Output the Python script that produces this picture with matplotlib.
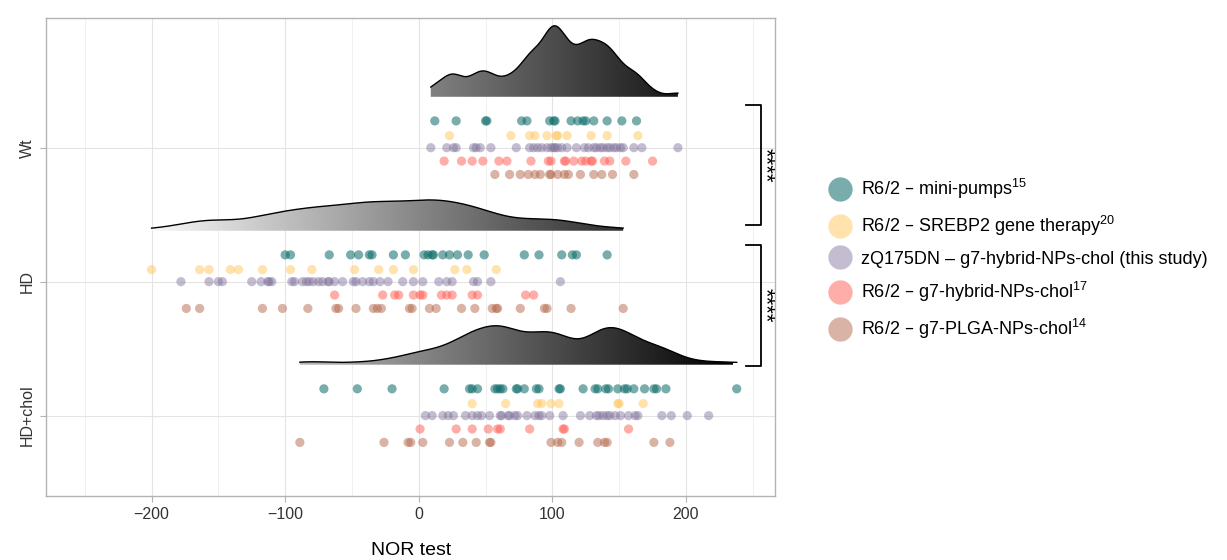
import numpy as np
import matplotlib
matplotlib.use("Agg")
import matplotlib.pyplot as plt
from matplotlib.patches import Polygon
from matplotlib.lines import Line2D
from matplotlib.colors import LinearSegmentedColormap
from matplotlib.ticker import MultipleLocator

plt.rcParams.update({"font.family": ["Liberation Sans", "DejaVu Sans"],
                     "mathtext.default": "regular"})

groups = ["HD+chol", "HD", "Wt"]  # bottom to top
studies = ["R6/2 – mini-pumps$^{15}$",
           "R6/2 – SREBP2 gene therapy$^{20}$",
           "zQ175DN – g7-hybrid-NPs-chol (this study)",
           "R6/2 – g7-hybrid-NPs-chol$^{17}$",
           "R6/2 – g7-PLGA-NPs-chol$^{14}$"]
colors = ["#0b6b69", "#ffc65a", "#7d6e99", "#ff5c52", "#b5694d"]
alphas = [0.55, 0.5, 0.45, 0.5, 0.5]
offsets = [0.2, 0.09, 0.0, -0.1, -0.2]

# NOR test values
wt_teal = [12, 28, 50, 51, 77, 81, 98, 101, 102, 114, 119, 123, 125, 131, 141, 152, 163]
wt_yellow = [23, 69, 83, 87, 96, 103, 104, 111, 129, 141, 164]
wt_purple = [9, 21, 26, 28, 41, 43, 46, 54, 73, 83, 86, 89, 92, 96, 99, 101, 102, 104,
             107, 111, 118, 124, 127, 131, 133, 136, 138, 141, 143, 146, 148, 151, 153,
             161, 167, 194]
wt_red = [19, 32, 40, 48, 60, 66, 84, 97, 99, 109, 110, 116, 122, 125, 129, 130, 139,
          143, 155, 175]
wt_brown = [57, 68, 76, 82, 87, 91, 98, 99, 104, 109, 112, 121, 131, 137, 145, 161]

hd_teal = [-100, -96, -67, -51, -45, -37, -35, -19, -10, 4, 7, 10, 11, 18, 23, 29, 37,
           49, 79, 90, 107, 115, 118, 141]
hd_yellow = [-200, -164, -157, -141, -135, -117, -96, -80, -48, -30, -19, -4, 27, 36, 58]
hd_purple = [-178, -157, -150, -147, -125, -118, -113, -112, -110, -95, -93, -87, -84,
             -82, -79, -75, -72, -68, -67, -63, -57, -49, -47, -42, -37, -34, -29, -23,
             -12, -4, 3, 15, 21, 25, 41, 44, 54, 106]
hd_red = [-63, -27, -18, -15, -4, 1, 3, 17, 21, 25, 40, 44, 80, 86]
hd_brown = [-174, -164, -117, -102, -83, -62, -60, -47, -34, -31, -28, -7, -5, 8, 13,
            32, 42, 55, 58, 59, 76, 94, 96, 114, 153]

chol_teal = [-71, -46, -20, 19, 38, 40, 44, 57, 59, 61, 63, 73, 74, 79, 88, 90, 105,
             106, 123, 132, 134, 140, 142, 149, 154, 156, 161, 169, 176, 178, 185, 238]
chol_yellow = [40, 65, 89, 92, 99, 105, 149, 150, 168]
chol_purple = [5, 10, 18, 22, 26, 35, 40, 44, 47, 53, 61, 62, 67, 68, 72, 74, 81, 87,
               90, 92, 98, 108, 121, 128, 133, 135, 138, 141, 143, 147, 151, 157, 162,
               164, 182, 189, 201, 217]
chol_red = [1, 28, 40, 52, 59, 61, 83, 108, 109, 157]
chol_brown = [-89, -26, -8, -6, 3, 23, 33, 43, 53, 54, 99, 104, 107, 120, 134, 139,
              141, 176, 188]

values = {
    "Wt": [wt_teal, wt_yellow, wt_purple, wt_red, wt_brown],
    "HD": [hd_teal, hd_yellow, hd_purple, hd_red, hd_brown],
    "HD+chol": [chol_teal, chol_yellow, chol_purple, chol_red, chol_brown],
}
bandwidth = {"Wt": 7, "HD": 17, "HD+chol": 12}

# significance brackets: (top, bottom) in category units
brackets = [(3.32, 2.425), (2.27, 1.373)]


def kde(vals, grid, bw):
    vals = np.asarray(vals, dtype=float)
    z = (grid[:, None] - vals[None, :]) / bw
    return np.exp(-0.5 * z ** 2).sum(1) / (len(vals) * bw * np.sqrt(2 * np.pi))


fig = plt.figure(figsize=(12.27, 5.6), dpi=100)
ax = fig.add_axes([0.0375, 0.1143, 0.5945, 0.854])

# ridgeline densities
dens = {}
for g in groups:
    allv = np.concatenate([np.asarray(v, float) for v in values[g]])
    grid = np.linspace(allv.min(), allv.max(), 500)
    dens[g] = (grid, kde(allv, grid, bandwidth[g]))
scale = 0.53 / max(d.max() for _, d in dens.values())

cmap = LinearSegmentedColormap.from_list("ridge", ["#fbfbfb", "#000000"])
gradient = np.linspace(0, 1, 256)[None, :]
for i, g in enumerate(groups):
    pos = i + 1
    base = pos + 0.38
    grid, d = dens[g]
    top = base + d * scale
    verts = [(grid[0], base)] + list(zip(grid, top)) + [(grid[-1], base)]
    patch = Polygon(verts, closed=True, facecolor="none", edgecolor="none")
    ax.add_patch(patch)
    im = ax.imshow(gradient, extent=(-205, 235, base, base + 1), cmap=cmap,
                   aspect="auto", origin="lower", zorder=2)
    im.set_clip_path(patch)
    ax.plot(grid, top, color="black", lw=1.0, zorder=3)

    for k in range(5):
        xs = values[g][k]
        ax.scatter(xs, [pos + offsets[k]] * len(xs), s=44, color=colors[k],
                   alpha=alphas[k], edgecolors="none", zorder=4)

# brackets with stars
for top, bot in brackets:
    ax.plot([245, 256, 256, 245], [top, top, bot, bot], color="black", lw=1.3,
            clip_on=False, zorder=5)
    ax.text(259.5, (top + bot) / 2, "****", rotation=270, ha="center", va="center",
            fontsize=16, clip_on=False)

ax.set_xlim(-279, 267)
ax.set_ylim(0.4, 3.97)
ax.set_yticks([1, 2, 3])
ax.set_yticklabels(groups, rotation=90, va="center", fontsize=12, color="#333333")
ax.set_xticks([-200, -100, 0, 100, 200])
ax.set_xticklabels(["\u2212200", "\u2212100", "0", "100", "200"])
ax.xaxis.set_minor_locator(MultipleLocator(50))
ax.tick_params(axis="x", which="minor", length=0)
ax.tick_params(axis="both", which="major", length=4, width=0.8, color="#b3b3b3",
               labelsize=11.5, labelcolor="#333333", pad=4)
ax.set_xlabel("NOR test", fontsize=14, labelpad=14)
ax.grid(True, which="major", color="#e4e4e4", lw=0.8)
ax.grid(True, which="minor", axis="x", color="#eeeeee", lw=0.6)
ax.set_axisbelow(True)
for sp in ax.spines.values():
    sp.set_color("#b3b3b3")
    sp.set_linewidth(1.0)

handles = [Line2D([], [], ls="none", marker="o", markersize=17.5, color=colors[k],
                  alpha=alphas[k], markeredgewidth=0) for k in range(5)]
fig.legend(handles, studies, loc="center left", bbox_to_anchor=(0.676, 0.5375),
           frameon=False, fontsize=13, handletextpad=0.55, labelspacing=0.7,
           borderpad=0, borderaxespad=0, handlelength=1.2)

fig.savefig("out.png", dpi=100)
